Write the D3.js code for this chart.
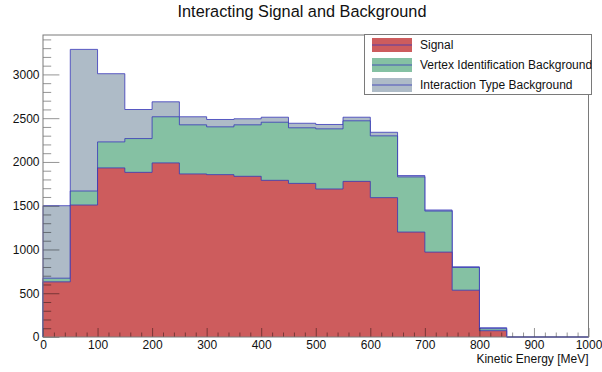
<!DOCTYPE html>
<html>
<head>
<meta charset="utf-8">
<script src="https://cdn.jsdelivr.net/npm/d3@7"></script>
<style>
  html, body { margin: 0; padding: 0; background: #fff; }
  svg { display: block; font-family: "Liberation Sans", Arial, Helvetica, sans-serif; }
</style>
</head>
<body>
<svg id="chart" width="602" height="372"></svg>
<script>
// Bin edges of the kinetic energy histogram (MeV)
const binEdges = d3.range(0, 1001, 50);

// Per-bin event counts for each stacked component
const signal = [630, 1508, 1932, 1881, 1989, 1863, 1855, 1836, 1790, 1755,
                1691, 1778, 1592, 1199, 970, 535, 72, 0, 0, 0];
const vertexBackground = [42, 160, 297, 386, 527, 561, 546, 588, 664, 635,
                          687, 692, 706, 630, 469, 259, 23, 0, 0, 0];
const interactionBackground = [828, 1618, 779, 332, 171, 92, 84, 69, 57, 52,
                               50, 41, 41, 15, 12, 8, 11, 0, 0, 0];

const seriesKeys = ["signal", "vertex", "interaction"];
const seriesLabels = ["Signal", "Vertex Identification Background", "Interaction Type Background"];
const seriesColors = ["#cd5c5d", "#85c1a3", "#aebbc7"];

const yMajorTicks = [0, 500, 1000, 1500, 2000, 2500, 3000];
const xMajorTicks = [0, 100, 200, 300, 400, 500, 600, 700, 800, 900, 1000];

const title = "Interacting Signal and Background";
const xTitle = "Kinetic Energy [MeV]";

// ---- layout ----
const svg = d3.select("#chart");
const frame = { left: 43, right: 588.5, top: 35, bottom: 337 };
const lineColor = "rgba(55,55,185,0.8)";
const axisColor = "#7a7a7a";

const table = signal.map((s, i) => ({
  x0: binEdges[i], x1: binEdges[i + 1],
  signal: s, vertex: vertexBackground[i], interaction: interactionBackground[i]
}));
const stacked = d3.stack().keys(seriesKeys)(table);

const totalMax = d3.max(stacked[stacked.length - 1], d => d[1]);
const x = d3.scaleLinear().domain([0, 1000]).range([frame.left, frame.right]);
const y = d3.scaleLinear().domain([0, totalMax * 1.05]).range([frame.bottom, frame.top]);

// Step points for one cumulative layer (value held across each bin)
function stepPoints(layer) {
  const pts = layer.map((d, i) => [table[i].x0, d[1]]);
  pts.push([table[table.length - 1].x1, layer[layer.length - 1][1]]);
  return pts;
}

const area = d3.area()
  .curve(d3.curveStepAfter)
  .x(d => x(d[0])).y0(y(0)).y1(d => y(d[1]));

const outline = d3.line()
  .curve(d3.curveStepAfter)
  .x(d => x(d[0])).y(d => y(d[1]));

// Draw the cumulative histograms from the total downwards, each filled from zero
const histG = svg.append("g");
for (let k = stacked.length - 1; k >= 0; k--) {
  const pts = stepPoints(stacked[k]);
  histG.append("path")
    .attr("d", area(pts))
    .attr("fill", seriesColors[k]);
  const linePts = [[pts[0][0], 0], ...pts];
  // close the step outline down to zero at the right end
  const lastX = pts[pts.length - 1][0];
  histG.append("path")
    .attr("d", outline(linePts) + "L" + x(lastX) + "," + y(0))
    .attr("fill", "none")
    .attr("stroke", lineColor)
    .attr("stroke-width", 1);
}

// ---- axes ----
const tickStroke = "rgba(0,0,0,0.42)";
const yMinor = d3.range(0, 3401, 100).filter(v => v % 500 !== 0);
const xMinor = d3.range(0, 1001, 20).filter(v => v % 100 !== 0);

const yAxisMinor = svg.append("g")
  .attr("transform", `translate(${frame.left},0)`)
  .call(d3.axisLeft(y).tickValues(yMinor).tickSize(-8.2).tickFormat(""));
const yAxis = svg.append("g")
  .attr("transform", `translate(${frame.left},0)`)
  .call(d3.axisLeft(y).tickValues(yMajorTicks).tickSize(-16.4).tickPadding(3.5).tickFormat(d3.format("d")));

const xAxisMinor = svg.append("g")
  .attr("transform", `translate(0,${frame.bottom})`)
  .call(d3.axisBottom(x).tickValues(xMinor).tickSize(-4.5).tickFormat(""));
const xAxis = svg.append("g")
  .attr("transform", `translate(0,${frame.bottom})`)
  .call(d3.axisBottom(x).tickValues(xMajorTicks).tickSize(-9).tickPadding(3.5).tickFormat(d3.format("d")));

[yAxisMinor, yAxis, xAxisMinor, xAxis].forEach(g => {
  g.select(".domain").remove();
  g.selectAll(".tick line").attr("stroke", tickStroke);
  g.selectAll(".tick text")
    .attr("fill", "#111")
    .style("font-size", "12px")
    .style("font-family", "'Liberation Sans', Arial, sans-serif");
});

// frame
svg.append("rect")
  .attr("x", frame.left).attr("y", frame.top)
  .attr("width", frame.right - frame.left).attr("height", frame.bottom - frame.top)
  .attr("fill", "none").attr("stroke", axisColor).attr("stroke-width", 1);

// ---- titles ----
svg.append("text")
  .attr("x", 302).attr("y", 17)
  .attr("text-anchor", "middle")
  .attr("fill", "#111")
  .style("font-size", "16.3px")
  .text(title);

svg.append("text")
  .attr("x", frame.right).attr("y", 362.5)
  .attr("text-anchor", "end")
  .attr("fill", "#111")
  .style("font-size", "12px")
  .text(xTitle);

// ---- legend ----
const legend = svg.append("g");
legend.append("rect")
  .attr("x", 364.5).attr("y", 34.5).attr("width", 227).attr("height", 60)
  .attr("fill", "#fff").attr("stroke", axisColor).attr("stroke-width", 1);

seriesLabels.forEach((label, i) => {
  const cy = 45 + i * 20;
  legend.append("rect")
    .attr("x", 372).attr("y", cy - 7).attr("width", 40).attr("height", 14)
    .attr("fill", seriesColors[i]);
  legend.append("line")
    .attr("x1", 372).attr("x2", 412).attr("y1", cy).attr("y2", cy)
    .attr("stroke", lineColor).attr("stroke-width", 1);
  legend.append("text")
    .attr("x", 420).attr("y", cy + 4.3)
    .attr("fill", "#111")
    .style("font-size", "12px")
    .text(label);
});
</script>
</body>
</html>
